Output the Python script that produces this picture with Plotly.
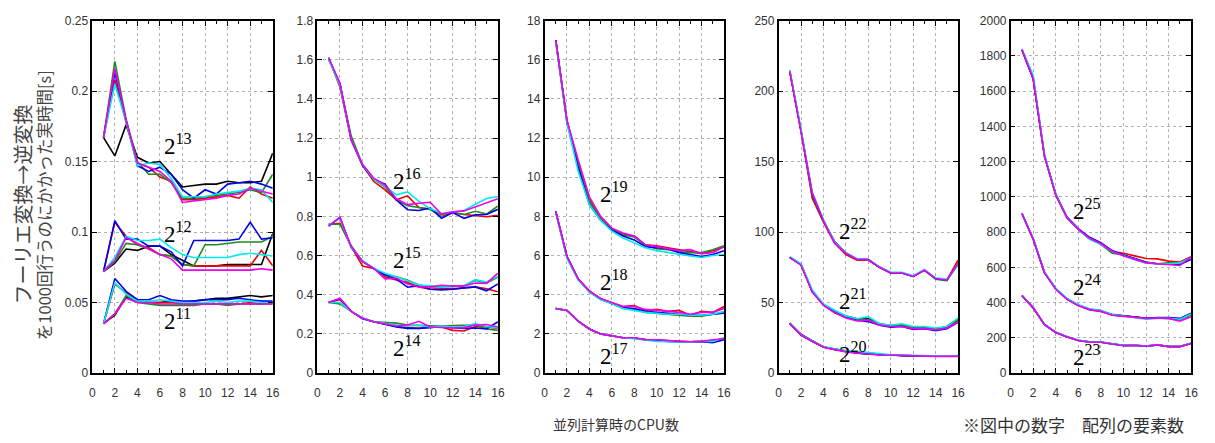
import plotly.graph_objects as go

# CPU count on the x axis of every panel
cpus = list(range(1, 17))

# colours of the six measurement series
colors = {
    "black": "#000000",
    "red": "#ee0000",
    "green": "#1e8a1e",
    "blue": "#0000ee",
    "cyan": "#00e8f0",
    "magenta": "#ee00ee",
}

# ---- panel 1: 2^11, 2^12, 2^13 ----
n13 = dict(
    black=[.167, .154, .176, .153, .149, .150, .141, .132, .133, .134, .134, .136, .135, .135, .136, .156],
    red=[.167, .208, .178, .149, .146, .139, .136, .123, .123, .124, .125, .126, .124, .132, .127, .124],
    green=[.167, .221, .180, .150, .141, .141, .135, .124, .124, .125, .126, .127, .128, .130, .128, .141],
    blue=[.167, .213, .179, .147, .143, .146, .141, .130, .124, .130, .127, .134, .135, .136, .134, .131],
    cyan=[.167, .205, .178, .147, .149, .148, .138, .125, .125, .125, .127, .128, .129, .131, .130, .121],
    magenta=[.167, .216, .179, .149, .146, .143, .136, .121, .122, .123, .124, .126, .127, .131, .129, .127],
)
n12 = dict(
    black=[.072, .078, .088, .087, .090, .090, .084, .080, .076, .076, .076, .077, .077, .077, .077, .099],
    red=[.072, .107, .097, .091, .089, .084, .083, .077, .076, .076, .076, .076, .076, .076, .087, .076],
    green=[.072, .079, .092, .091, .088, .084, .083, .077, .076, .091, .091, .092, .093, .093, .093, .097],
    blue=[.072, .108, .095, .095, .090, .090, .086, .076, .094, .094, .094, .094, .095, .107, .095, .096],
    cyan=[.072, .082, .097, .094, .094, .095, .089, .084, .082, .082, .082, .082, .084, .085, .084, .083],
    magenta=[.072, .080, .096, .092, .088, .084, .081, .073, .073, .073, .073, .073, .073, .073, .074, .073],
)
n11 = dict(
    black=[.035, .041, .054, .051, .050, .050, .051, .050, .051, .052, .053, .053, .054, .055, .054, .055],
    red=[.035, .063, .057, .051, .050, .050, .050, .049, .049, .049, .049, .049, .049, .050, .049, .050],
    green=[.035, .042, .055, .050, .049, .048, .048, .048, .048, .049, .049, .048, .049, .049, .049, .049],
    blue=[.035, .067, .058, .052, .052, .055, .052, .051, .051, .052, .052, .052, .053, .052, .051, .051],
    cyan=[.035, .064, .056, .051, .051, .052, .051, .050, .050, .050, .051, .050, .051, .051, .050, .050],
    magenta=[.035, .042, .053, .050, .050, .049, .049, .049, .049, .049, .049, .049, .049, .049, .049, .049],
)

# ---- panel 2: 2^14, 2^15, 2^16 ----
n16 = dict(
    red=[1.61, 1.46, 1.19, 1.06, .978, .935, .885, .905, .845, .838, .81, .82, .81, .805, .798, .805],
    green=[1.61, 1.47, 1.21, 1.065, .99, .95, .884, .855, .845, .835, .80, .82, .81, .826, .812, .853],
    blue=[1.60, 1.48, 1.19, 1.06, .99, .965, .884, .834, .83, .843, .79, .82, .79, .808, .81, .836],
    cyan=[1.60, 1.47, 1.19, 1.065, .99, .955, .91, .925, .877, .84, .815, .822, .83, .862, .891, .902],
    magenta=[1.61, 1.48, 1.19, 1.065, .995, .96, .89, .86, .867, .872, .812, .823, .828, .849, .87, .89],
)
n15 = dict(
    red=[.76, .765, .645, .547, .534, .49, .475, .463, .44, .428, .43, .43, .435, .44, .43, .415],
    green=[.76, .76, .65, .57, .534, .504, .492, .474, .45, .44, .44, .445, .445, .474, .46, .49],
    blue=[.75, .795, .64, .57, .534, .50, .48, .438, .446, .428, .425, .428, .435, .44, .42, .455],
    cyan=[.755, .79, .64, .575, .535, .51, .492, .47, .45, .445, .44, .44, .447, .477, .465, .493],
    magenta=[.75, .795, .645, .57, .534, .481, .484, .455, .44, .44, .448, .444, .445, .46, .458, .51],
)
n14 = dict(
    red=[.36, .375, .315, .28, .262, .25, .238, .233, .228, .235, .235, .218, .215, .238, .235, .228],
    green=[.36, .353, .315, .28, .262, .258, .255, .245, .244, .24, .24, .242, .245, .245, .225, .218],
    blue=[.36, .38, .315, .277, .262, .25, .236, .228, .228, .232, .238, .232, .228, .23, .225, .262],
    cyan=[.36, .36, .315, .282, .262, .252, .245, .24, .244, .235, .24, .235, .238, .253, .238, .23],
    magenta=[.36, .382, .315, .28, .262, .25, .24, .245, .264, .235, .232, .23, .232, .245, .248, .235],
)

# ---- panel 3: 2^17, 2^18, 2^19 ----
n19 = dict(
    red=[17.0, 12.9, 10.7, 8.85, 7.9, 7.35, 7.1, 7.0, 6.55, 6.5, 6.4, 6.3, 6.2, 6.1, 6.25, 6.45],
    green=[17.0, 12.9, 10.6, 8.75, 7.85, 7.35, 7.05, 6.95, 6.5, 6.35, 6.3, 6.2, 6.15, 6.15, 6.3, 6.5],
    blue=[17.0, 12.8, 10.5, 8.6, 7.8, 7.3, 7.0, 6.8, 6.45, 6.4, 6.35, 6.15, 6.05, 5.95, 6.05, 6.25],
    cyan=[16.9, 12.8, 10.3, 8.6, 7.8, 7.25, 6.9, 6.65, 6.4, 6.25, 6.15, 6.05, 5.98, 5.9, 6.0, 6.05],
    magenta=[17.0, 12.9, 10.9, 9.0, 8.0, 7.4, 7.15, 7.0, 6.55, 6.45, 6.35, 6.25, 6.3, 6.1, 6.15, 6.45],
)
n18 = dict(
    red=[8.25, 5.95, 4.8, 4.2, 3.8, 3.6, 3.4, 3.45, 3.2, 3.25, 3.15, 3.2, 2.95, 3.15, 3.1, 3.4],
    green=[8.25, 5.95, 4.8, 4.15, 3.75, 3.55, 3.3, 3.25, 3.1, 3.05, 3.0, 2.95, 2.9, 2.9, 3.0, 3.1],
    blue=[8.25, 5.95, 4.8, 4.15, 3.8, 3.55, 3.35, 3.3, 3.15, 3.1, 3.05, 3.0, 2.95, 2.95, 3.0, 3.05],
    cyan=[8.2, 5.85, 4.75, 4.15, 3.75, 3.55, 3.3, 3.2, 3.1, 3.05, 3.0, 3.0, 2.95, 2.95, 3.0, 3.15],
    magenta=[8.25, 5.95, 4.8, 4.2, 3.8, 3.6, 3.4, 3.4, 3.25, 3.2, 3.15, 3.1, 3.0, 3.1, 3.1, 3.3],
)
n17 = dict(
    red=[3.3, 3.2, 2.65, 2.25, 2.0, 1.9, 1.8, 1.8, 1.7, 1.7, 1.65, 1.62, 1.6, 1.62, 1.65, 1.75],
    green=[3.3, 3.2, 2.65, 2.25, 2.0, 1.9, 1.8, 1.78, 1.7, 1.68, 1.63, 1.62, 1.6, 1.62, 1.62, 1.78],
    blue=[3.3, 3.2, 2.65, 2.25, 2.0, 1.9, 1.8, 1.78, 1.7, 1.65, 1.62, 1.6, 1.58, 1.6, 1.55, 1.7],
    cyan=[3.3, 3.2, 2.65, 2.25, 2.0, 1.9, 1.8, 1.75, 1.68, 1.62, 1.6, 1.6, 1.58, 1.62, 1.62, 1.8],
    magenta=[3.3, 3.2, 2.65, 2.25, 2.0, 1.9, 1.8, 1.8, 1.7, 1.7, 1.65, 1.62, 1.6, 1.62, 1.7, 1.75],
)

# ---- panel 4: 2^20, 2^21, 2^22 ----
n22 = dict(
    red=[214, 172, 124, 107, 92, 84, 80, 80, 75, 71, 71, 68.5, 73, 67, 66, 80],
    green=[214, 172, 126, 108, 93, 85, 80.5, 80.5, 75, 71, 71, 68.5, 73, 66.5, 65.5, 78],
    blue=[214, 172, 127, 108, 93, 85, 81, 80.5, 75, 71, 71, 68.5, 73, 67, 66, 77],
    cyan=[215, 173, 128, 109, 92.5, 85.5, 81, 80.5, 75.5, 71.5, 71.5, 69, 73.5, 67.5, 66.5, 77],
    magenta=[214, 172, 128, 108, 92, 85, 80.5, 80.5, 75, 71, 71, 68.5, 73, 67, 66, 78],
)
n21 = dict(
    black=[82, 77, 58, 48.5, 44, 40.5, 38.5, 38.5, 35, 33.5, 34, 32, 32.5, 31, 33, 38.5],
    red=[82, 77, 58, 48.5, 43, 39.5, 37.5, 37.5, 34.5, 33, 33.5, 31.5, 32, 30.5, 32, 37],
    green=[82, 77, 58, 48.5, 43.5, 40, 38, 38, 35, 33.5, 34, 32, 32.5, 31, 33, 38],
    blue=[82, 77, 58, 48.5, 43, 39.5, 37.5, 36.5, 34, 32.5, 33, 31, 31.5, 30, 31.5, 36],
    cyan=[82.5, 77.5, 59, 49, 44.5, 40.5, 38.5, 40, 35, 34, 35, 33, 33, 32, 33, 39],
    magenta=[82, 76.5, 57.5, 48, 43, 39, 37, 37.5, 34, 33, 33, 31.5, 31.5, 30.5, 32, 36],
)
n20 = dict(
    black=[35.5, 27.5, 23, 18.5, 17, 15.5, 14.5, 13.5, 13, 12.8, 12.5, 12.3, 12, 12, 12, 12],
    red=[35, 27, 22.5, 18.5, 16.8, 15.3, 14.2, 13.5, 13, 12.8, 12.5, 12.2, 12, 12, 12, 12],
    green=[35, 27, 22.5, 18.5, 16.8, 15.3, 14.2, 13.5, 13, 12.8, 12.5, 12.2, 12, 12, 12, 12],
    blue=[35, 27, 22.5, 18.5, 16.8, 15.3, 14.2, 13.5, 13, 12.8, 12.5, 12.2, 12, 12, 12, 12],
    cyan=[35, 27.2, 22.7, 18.7, 17.2, 16, 15.5, 14.5, 13.5, 13, 12.7, 12.4, 12.2, 12.2, 12.2, 12.5],
    magenta=[35, 27, 22.5, 18.3, 16.6, 15, 14, 13.3, 12.8, 12.6, 12.3, 12, 11.8, 11.8, 11.8, 11.8],
)

# ---- panel 5: 2^23, 2^24, 2^25 ----
n25 = dict(
    red=[1835, 1670, 1230, 1010, 880, 815, 765, 735, 690, 680, 665, 650, 648, 635, 630, 660],
    green=[1835, 1670, 1230, 1010, 880, 815, 760, 730, 680, 670, 650, 630, 620, 625, 625, 655],
    blue=[1835, 1670, 1235, 1015, 885, 820, 770, 740, 695, 670, 650, 628, 620, 620, 615, 645],
    cyan=[1840, 1690, 1240, 1015, 880, 815, 760, 730, 690, 665, 645, 625, 620, 620, 625, 655],
    magenta=[1835, 1670, 1230, 1010, 880, 815, 765, 735, 690, 665, 645, 625, 620, 615, 610, 660],
)
n24 = dict(
    red=[905, 760, 570, 478, 420, 385, 360, 350, 330, 325, 318, 310, 313, 312, 305, 330],
    green=[905, 760, 570, 478, 420, 385, 360, 352, 333, 325, 318, 310, 313, 310, 305, 330],
    blue=[905, 760, 570, 478, 420, 385, 362, 355, 330, 325, 318, 310, 315, 315, 310, 340],
    cyan=[905, 765, 575, 480, 423, 388, 365, 355, 332, 322, 316, 305, 310, 310, 305, 335],
    magenta=[905, 760, 570, 475, 418, 382, 360, 350, 328, 322, 316, 310, 312, 310, 295, 320],
)
n23 = dict(
    red=[440, 370, 275, 230, 205, 185, 176, 175, 165, 156, 158, 152, 160, 150, 150, 168],
    green=[440, 370, 275, 230, 205, 185, 176, 175, 165, 156, 158, 152, 160, 150, 150, 168],
    blue=[440, 370, 276, 231, 206, 186, 177, 176, 166, 157, 158, 153, 160, 151, 151, 169],
    cyan=[441, 371, 276, 231, 206, 186, 177, 176, 166, 157, 159, 153, 161, 151, 151, 169],
    magenta=[440, 370, 275, 230, 205, 185, 175, 175, 165, 155, 158, 152, 160, 150, 150, 168],
)

# panel definitions: groups, y range, y tick step, label positions (x, y)
panels = [
    dict(groups=[n13, n12, n11], ymax=0.25, dy=0.05,
         labels=[("13", 6.2, 0.162), ("12", 6.2, 0.0995), ("11", 6.2, 0.038)]),
    dict(groups=[n16, n15, n14], ymax=1.8, dy=0.2,
         labels=[("16", 6.5, 0.99), ("15", 6.5, 0.587), ("14", 6.5, 0.138)]),
    dict(groups=[n19, n18, n17], ymax=18, dy=2,
         labels=[("19", 4.8, 9.2), ("18", 4.8, 4.75), ("17", 4.8, 0.97)]),
    dict(groups=[n22, n21, n20], ymax=250, dy=50,
         labels=[("22", 5.2, 101.5), ("21", 5.2, 52.4), ("20", 5.2, 14.6)]),
    dict(groups=[n25, n24, n23], ymax=2000, dy=200,
         labels=[("25", 5.35, 927), ("24", 5.35, 498), ("23", 5.35, 99)]),
]

W, H = 1215, 443
x_px = [(90, 272), (317, 499), (546, 727), (782, 963), (1016, 1198)]
y_top, y_bot = 14, 378

fig = go.Figure()
order = ["black", "red", "green", "blue", "cyan", "magenta"]
tick_font = dict(family="Liberation Sans, Arial, sans-serif", size=12, color="#333333")

for i, p in enumerate(panels):
    suffix = "" if i == 0 else str(i + 1)
    for grp in p["groups"]:
        for c in order:
            if c not in grp:
                continue
            fig.add_trace(go.Scatter(
                x=cpus, y=grp[c], mode="lines",
                line=dict(color=colors[c], width=1.6),
                xaxis="x" + suffix, yaxis="y" + suffix,
                showlegend=False, hoverinfo="skip",
            ))
    x0, x1 = x_px[i]
    xdom = [x0 / W, x1 / W]
    # main x axis: frame, grid and labels (transparent outside ticks push the labels down)
    fig.layout["xaxis" + suffix] = dict(
        domain=xdom, range=[0, 16], tick0=0, dtick=2, anchor="y" + suffix,
        showline=True, linecolor="#000000", linewidth=1.5, mirror=True,
        ticks="outside", ticklen=8, tickcolor="rgba(0,0,0,0)",
        showgrid=True, gridcolor="#b0b0b0", griddash="dot", gridwidth=1,
        zeroline=False, tickfont=tick_font,
    )
    # overlay x axis: inside tick marks on bottom and top edges
    ov = str(6 + i)
    fig.layout["xaxis" + ov] = dict(
        domain=xdom, range=[0, 16], tick0=0, dtick=2, anchor="y" + suffix,
        overlaying="x" + suffix, showline=False, mirror="ticks",
        ticks="inside", ticklen=5, tickcolor="#000000", tickwidth=1,
        showticklabels=False, showgrid=False, zeroline=False,
        minor=dict(dtick=1, ticks="inside", ticklen=3, tickcolor="#000000", showgrid=False),
    )
    fig.layout["yaxis" + suffix] = dict(
        domain=[(H - y_bot) / H, (H - y_top) / H], range=[0, p["ymax"]],
        tick0=0, dtick=p["dy"], anchor="x" + suffix,
        showline=True, linecolor="#000000", linewidth=1.5, mirror="ticks",
        ticks="inside", ticklen=5, tickcolor="#000000", tickwidth=1,
        showgrid=True, gridcolor="#b0b0b0", griddash="dot", gridwidth=1,
        zeroline=False, tickfont=tick_font,
    )
    # invisible trace so the overlay axis is drawn
    fig.add_trace(go.Scatter(
        x=[0], y=[0], mode="markers", marker=dict(opacity=0),
        xaxis="x" + ov, yaxis="y" + suffix, showlegend=False, hoverinfo="skip",
    ))
    for exp, lx, ly in p["labels"]:
        fig.add_annotation(
            x=lx, y=ly, xref="x" + suffix, yref="y" + suffix,
            text="2<sup>" + exp + "</sup>", showarrow=False,
            xanchor="left", yanchor="middle",
            font=dict(family="Liberation Serif, DejaVu Serif, serif", size=23, color="#000000"),
        )

cjk = "Noto Sans CJK JP, sans-serif"
# y-axis title, two rotated lines
fig.add_annotation(
    x=20 / W, y=(H - 204) / H, xref="paper", yref="paper",
    text="フーリエ変換→逆変換",
    textangle=-90, showarrow=False, xanchor="center", yanchor="middle",
    font=dict(family=cjk, size=20, color="#444444"),
)
fig.add_annotation(
    x=41 / W, y=(H - 205) / H, xref="paper", yref="paper",
    text="を1000回行うのにかかった実時間[s]",
    textangle=-90, showarrow=False, xanchor="center", yanchor="middle",
    font=dict(family=cjk, size=16.5, color="#444444"),
)
fig.add_annotation(
    x=618 / W, y=(H - 431) / H, xref="paper", yref="paper",
    text="並列計算時のCPU数", showarrow=False, xanchor="center", yanchor="middle",
    font=dict(family=cjk, size=14, color="#333333"),
)
fig.add_annotation(
    x=1079 / W, y=(H - 431) / H, xref="paper", yref="paper",
    text="※図中の数字　配列の要素数", showarrow=False, xanchor="center", yanchor="middle",
    font=dict(family=cjk, size=17, color="#333333"),
)

fig.update_layout(
    width=W, height=H, margin=dict(l=0, r=0, t=0, b=0),
    paper_bgcolor="#ffffff", plot_bgcolor="#ffffff",
)

fig.write_html("out.html")
